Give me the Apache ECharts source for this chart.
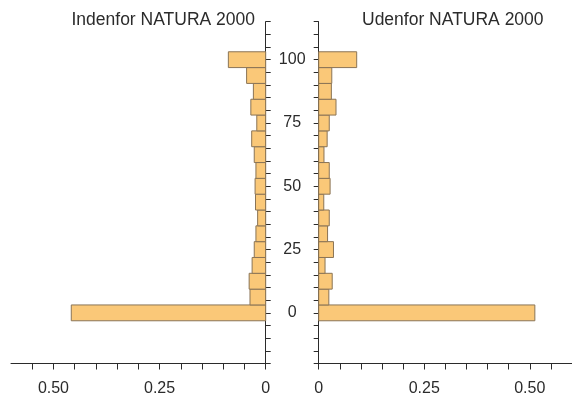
<!DOCTYPE html>
<html>
<head>
<meta charset="utf-8">
<script src="https://cdn.jsdelivr.net/npm/echarts@6/dist/echarts.min.js"></script>
<style>
    html, body { margin: 0; padding: 0; background: #fff; }
    #chart { width: 572px; height: 401px; }
</style>
</head>
<body>
<div id="chart"></div>
<script>
// Midterpunkter for klasserne (y-aksen) og klassebredde
const binCenters = [0, 6.25, 12.5, 18.75, 25, 31.25, 37.5, 43.75, 50, 56.25, 62.5, 68.75, 75, 81.25, 87.5, 93.75, 100];
const binWidth = 6.25;

// Andele indenfor / udenfor NATURA 2000
const insideValues = [0.458, 0.037, 0.039, 0.032, 0.027, 0.023, 0.019, 0.024, 0.025, 0.023, 0.027, 0.033, 0.021, 0.035, 0.029, 0.045, 0.088];
const outsideValues = [0.512, 0.024, 0.032, 0.015, 0.035, 0.021, 0.025, 0.012, 0.027, 0.025, 0.0125, 0.020, 0.025, 0.041, 0.030, 0.031, 0.090];

// Aksemærker
const yTickLabels = [0, 25, 50, 75, 100];
const xTickLabels = ['0', '0.25', '0.50'];

const panelTitles = ['Indenfor NATURA 2000', 'Udenfor NATURA 2000'];

const fillColor = '#fac878';
const edgeColor = '#8a7456';
const axisColor = '#2b2b2b';

function toData(values) {
    return binCenters.map(function (c, i) {
        return [c - binWidth / 2, c + binWidth / 2, values[i]];
    });
}

function renderBar(params, api) {
    let p0 = api.coord([0, api.value(0)]);
    let p1 = api.coord([api.value(2), api.value(1)]);
    let x = Math.min(p0[0], p1[0]);
    let y = Math.min(p0[1], p1[1]);
    return {
        type: 'rect',
        shape: {x: x, y: y, width: Math.abs(p1[0] - p0[0]), height: Math.abs(p1[1] - p0[1])},
        style: {fill: fillColor, stroke: edgeColor, lineWidth: 1}
    };
}

function xLabel(v) {
    if (Math.abs(v) < 1e-6) return xTickLabels[0];
    if (Math.abs(v - 0.25) < 1e-6) return xTickLabels[1];
    if (Math.abs(v - 0.5) < 1e-6) return xTickLabels[2];
    return '';
}

function yLabel(v) {
    return yTickLabels.indexOf(Math.round(v)) >= 0 && Math.abs(v - Math.round(v)) < 1e-6 ? String(Math.round(v)) : '';
}

let chart = echarts.init(document.getElementById('chart'), null, {renderer: 'canvas'});

const fontFamily = 'Liberation Sans, Arial, sans-serif';

function xAxisCfg(gridIndex, inverse) {
    return {
        type: 'value',
        gridIndex: gridIndex,
        inverse: inverse,
        min: 0,
        max: 0.6,
        interval: 0.05,
        splitLine: {show: false},
        axisLine: {onZero: false, lineStyle: {color: axisColor, width: 1}},
        axisTick: {show: true, length: 6, lineStyle: {color: axisColor}},
        axisLabel: {formatter: xLabel, color: axisColor, fontSize: 16, fontFamily: fontFamily, margin: 17, showMaxLabel: false}
    };
}

function yAxisCfg(gridIndex, position, showLabels) {
    return {
        type: 'value',
        gridIndex: gridIndex,
        position: position,
        min: -20,
        max: 115,
        interval: 5,
        splitLine: {show: false},
        axisLine: {onZero: false, lineStyle: {color: axisColor, width: 1}},
        axisTick: {show: true, length: 5, lineStyle: {color: axisColor}},
        axisLabel: {
            show: showLabels,
            formatter: yLabel,
            align: 'center',
            margin: 26.5,
            color: axisColor,
            fontSize: 16,
            fontFamily: fontFamily
        }
    };
}

let option = {
    animation: false,
    backgroundColor: '#fff',
    title: [
        {text: panelTitles[0], right: 312, top: 6, textStyle: {fontSize: 17.5, fontWeight: 'normal', color: axisColor, fontFamily: fontFamily}},
        {text: panelTitles[1], left: 357, top: 6, textStyle: {fontSize: 17.5, fontWeight: 'normal', color: axisColor, fontFamily: fontFamily}}
    ],
    grid: [
        {left: 11, width: 254.7, top: 21.7, height: 341.8},
        {left: 318.7, width: 254, top: 21.7, height: 341.8}
    ],
    xAxis: [xAxisCfg(0, true), xAxisCfg(1, false)],
    yAxis: [yAxisCfg(0, 'right', true), yAxisCfg(1, 'left', false)],
    series: [
        {
            name: panelTitles[0],
            type: 'custom',
            xAxisIndex: 0,
            yAxisIndex: 0,
            renderItem: renderBar,
            encode: {x: 2, y: [0, 1]},
            data: toData(insideValues)
        },
        {
            name: panelTitles[1],
            type: 'custom',
            xAxisIndex: 1,
            yAxisIndex: 1,
            renderItem: renderBar,
            encode: {x: 2, y: [0, 1]},
            data: toData(outsideValues)
        }
    ]
};

chart.setOption(option);
</script>
</body>
</html>
